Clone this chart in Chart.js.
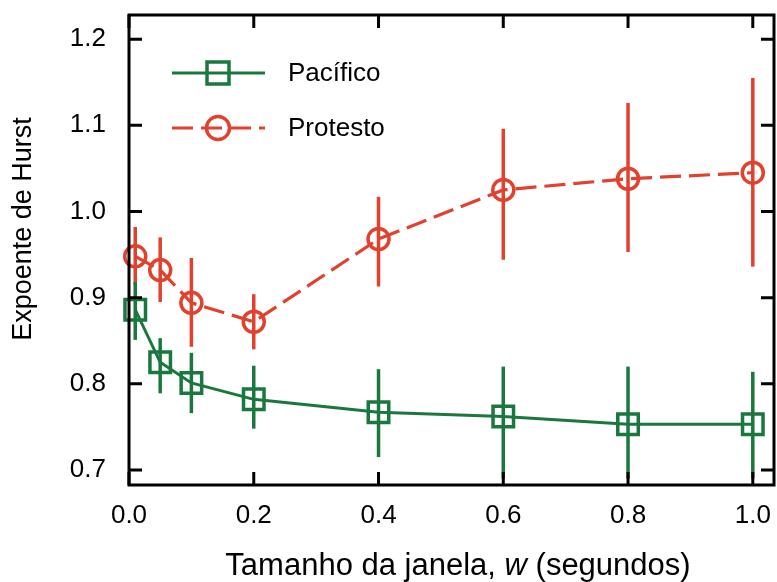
<!DOCTYPE html>
<html>
<head>
<meta charset="utf-8">
<script src="https://cdn.jsdelivr.net/npm/chart.js@4"></script>
<style>
  html, body { margin: 0; padding: 0; background: #fff; }
</style>
</head>
<body>
<canvas id="hurst" width="777" height="582"></canvas>
<script>
// window sizes (seconds)
const windows = [0.01, 0.05, 0.1, 0.2, 0.4, 0.6, 0.8, 1.0];

// Pacífico: mean exponent and error bar ends
const pacMean = [0.886, 0.825, 0.801, 0.782, 0.767, 0.762, 0.753, 0.753];
const pacHigh = [0.918, 0.853, 0.836, 0.821, 0.817, 0.820, 0.820, 0.814];
const pacLow  = [0.851, 0.789, 0.766, 0.748, 0.715, 0.690, 0.690, 0.690];

// Protesto: mean exponent and error bar ends
const proMean = [0.948, 0.932, 0.894, 0.872, 0.968, 1.025, 1.038, 1.045];
const proHigh = [0.982, 0.970, 0.946, 0.904, 1.017, 1.096, 1.126, 1.155];
const proLow  = [0.915, 0.895, 0.843, 0.840, 0.913, 0.944, 0.953, 0.936];

const xTicks = [0.0, 0.2, 0.4, 0.6, 0.8, 1.0];
const yTicks = [0.7, 0.8, 0.9, 1.0, 1.1, 1.2];

const GREEN = '#1a783e';
const RED = '#e2412e';
const DASH = [21, 8];
const FONT = "'Liberation Sans', Arial, Helvetica, sans-serif";

const toPoints = ys => windows.map((x, i) => ({ x, y: ys[i] }));

// vertical error bars, clipped to the plot frame
const errorBars = {
    id: 'errorBars',
    beforeDatasetsDraw(chart) {
        const { ctx, chartArea: a, scales: { x, y } } = chart;
        const sets = [
            { color: RED, low: proLow, high: proHigh },
            { color: GREEN, low: pacLow, high: pacHigh }
        ];
        ctx.save();
        ctx.beginPath();
        ctx.rect(a.left, a.top, a.right - a.left, a.bottom - a.top);
        ctx.clip();
        ctx.lineWidth = 3.5;
        sets.forEach(s => {
            ctx.strokeStyle = s.color;
            windows.forEach((w, i) => {
                const px = x.getPixelForValue(w);
                ctx.beginPath();
                ctx.moveTo(px, y.getPixelForValue(s.high[i]));
                ctx.lineTo(px, y.getPixelForValue(s.low[i]));
                ctx.stroke();
            });
        });
        ctx.restore();
    }
};

// box frame with inward ticks on all four sides, legend and axis titles
const frame = {
    id: 'frame',
    afterDraw(chart) {
        const { ctx, chartArea: a, scales: { x, y } } = chart;
        const len = 13;
        ctx.save();
        ctx.strokeStyle = '#000';
        ctx.lineWidth = 3;
        ctx.lineCap = 'square';
        ctx.strokeRect(a.left, a.top, a.right - a.left, a.bottom - a.top);
        ctx.lineCap = 'butt';
        ctx.beginPath();
        xTicks.forEach(v => {
            const px = x.getPixelForValue(v);
            ctx.moveTo(px, a.bottom); ctx.lineTo(px, a.bottom - len);
            ctx.moveTo(px, a.top); ctx.lineTo(px, a.top + len);
        });
        yTicks.forEach(v => {
            const py = y.getPixelForValue(v);
            ctx.moveTo(a.left, py); ctx.lineTo(a.left + len, py);
            ctx.moveTo(a.right, py); ctx.lineTo(a.right - len, py);
        });
        ctx.stroke();

        // legend
        const lx0 = a.left + 43, lx1 = a.left + 136, mx = a.left + 89;
        const rows = [
            { label: 'Pacífico', color: GREEN, dash: [], y: a.top + 58, marker: 'rect' },
            { label: 'Protesto', color: RED, dash: DASH, y: a.top + 113, marker: 'circle' }
        ];
        rows.forEach(r => {
            ctx.strokeStyle = r.color;
            ctx.lineWidth = 3;
            ctx.setLineDash(r.dash);
            ctx.beginPath();
            ctx.moveTo(lx0, r.y); ctx.lineTo(lx1, r.y);
            ctx.stroke();
            ctx.setLineDash([]);
            ctx.lineWidth = 3.5;
            ctx.beginPath();
            if (r.marker === 'rect') ctx.rect(mx - 11, r.y - 11, 22, 22);
            else ctx.arc(mx, r.y, 11.5, 0, Math.PI * 2);
            ctx.stroke();
            ctx.fillStyle = '#000';
            ctx.font = '26px ' + FONT;
            ctx.textAlign = 'left';
            ctx.textBaseline = 'middle';
            ctx.fillText(r.label, a.left + 159, r.y + 1);
        });

        // y title
        ctx.fillStyle = '#000';
        ctx.save();
        ctx.translate(24, 229);
        ctx.rotate(-Math.PI / 2);
        ctx.font = '27px ' + FONT;
        ctx.textAlign = 'center';
        ctx.textBaseline = 'middle';
        ctx.fillText('Expoente de Hurst', 0, 0);
        ctx.restore();

        // x title with italic w
        const parts = [
            { t: 'Tamanho da janela, ', f: '31px ' + FONT },
            { t: 'w', f: 'italic 31px ' + FONT },
            { t: ' (segundos)', f: '31px ' + FONT }
        ];
        let total = 0;
        parts.forEach(p => { ctx.font = p.f; p.w = ctx.measureText(p.t).width; total += p.w; });
        let cx = 458 - total / 2;
        ctx.textAlign = 'left';
        ctx.textBaseline = 'middle';
        parts.forEach(p => { ctx.font = p.f; ctx.fillText(p.t, cx, 566); cx += p.w; });
        ctx.restore();
    }
};

new Chart(document.getElementById('hurst'), {
    type: 'scatter',
    data: {
        datasets: [
            {
                label: 'Protesto',
                data: toPoints(proMean),
                showLine: true,
                borderColor: RED,
                borderWidth: 3.2,
                borderDash: DASH,
                pointStyle: 'circle',
                pointRadius: 10.5,
                pointBorderWidth: 3.5,
                pointBorderColor: RED,
                pointBackgroundColor: 'rgba(0,0,0,0)',
                clip: false
            },
            {
                label: 'Pacífico',
                data: toPoints(pacMean),
                showLine: true,
                borderColor: GREEN,
                borderWidth: 3,
                pointStyle: 'rect',
                pointRadius: 14.5,
                pointBorderWidth: 3.5,
                pointBorderColor: GREEN,
                pointBackgroundColor: 'rgba(0,0,0,0)',
                clip: false
            }
        ]
    },
    options: {
        responsive: false,
        animation: false,
        events: [],
        devicePixelRatio: 1,
        layout: { autoPadding: false, padding: { top: 15, right: 3, left: 0, bottom: 0 } },
        plugins: { legend: { display: false }, tooltip: { enabled: false } },
        scales: {
            x: {
                type: 'linear',
                min: 0,
                max: 1.034,
                grid: { display: false, drawTicks: false },
                border: { display: false },
                afterBuildTicks: s => { s.ticks = xTicks.map(v => ({ value: v })); },
                afterFit: s => { s.height = 97; s.paddingLeft = 0; s.paddingRight = 0; },
                ticks: {
                    padding: 15,
                    color: '#000',
                    maxRotation: 0,
                    font: { family: FONT, size: 26 },
                    callback: v => v.toFixed(1)
                }
            },
            y: {
                min: 0.6826,
                max: 1.228,
                grid: { display: false, drawTicks: false },
                border: { display: false },
                afterBuildTicks: s => { s.ticks = yTicks.map(v => ({ value: v })); },
                afterFit: s => { s.width = 129; s.paddingTop = 0; s.paddingBottom = 0; },
                ticks: {
                    padding: 23,
                    color: '#000',
                    font: { family: FONT, size: 26 },
                    callback: v => v.toFixed(1)
                }
            }
        }
    },
    plugins: [errorBars, frame]
});
</script>
</body>
</html>
